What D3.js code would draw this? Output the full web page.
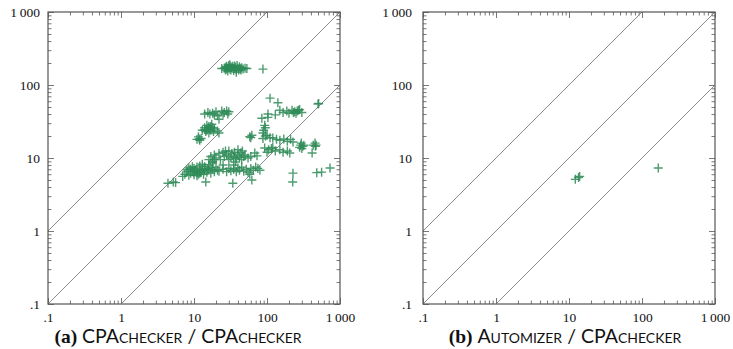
<!DOCTYPE html>
<html>
<head>
<meta charset="utf-8">
<script src="https://cdn.jsdelivr.net/npm/d3@7"></script>
<style>
  body { margin: 0; background: #fff; }
  svg { display: block; }
  .tick-label { font-family: "Liberation Serif", "DejaVu Serif", serif; font-size: 13.5px; fill: #111; }
  .caption { font-family: Lato, "Open Sans", sans-serif; font-size: 19.5px; fill: #111; }
  .caption .tag { font-family: "Liberation Serif", serif; font-weight: bold; }
  .caption .sc { font-variant: small-caps; }
</style>
</head>
<body>
<svg id="chart" width="733" height="349"></svg>
<script>
// axis ticks (same for both axes, both plots)
const tickValues = [0.1, 1, 10, 100, 1000];
const tickLabels = [".1", "1", "10", "100", "1\u2009000"];
const ratioLines = [10, 1, 0.1];

// (a) CPAchecker / CPAchecker  -- [x, y]
const pointsA = [
  // top cluster
  [26,170],[27,160],[28,180],[28,165],[29,155],[30,175],[30,185],[31,165],[32,160],[33,172],
  [34,180],[35,158],[36,168],[37,175],[38,162],[39,185],[40,170],[41,160],[42,178],[43,167],
  [45,172],[47,165],[50,170],[53,168],[27,175],[32,178],[36,182],[44,160],[24,168],[29,170],
  [31,190],[38,150],
  [88,165],
  // ~40 band
  [14,40],[15.5,42],[16.5,40],[18,41],[19,39],[20,43],[22,34],[21,38],[24,44],[26,42],
  [28,44],[29,40],[30,43],[25,40],
  // ~25 cluster
  [13,24],[14,26],[14.5,23],[15,28],[15.5,25],[16,22],[16,27],[17,24],[17.5,29],[18,26],
  [18.5,23],[19,25],[15,24],[16.5,25],[14,24.5],[17,27],
  [22,22],[21,23.5],
  // ~18 cluster
  [11,18],[11.5,19.5],[12,17.5],[12.5,18.5],[11.8,18.2],
  // dense low-left cluster
  [7,5.6],[7.5,6],[8,6.5],[8.5,5.8],[9,7],[9,6.2],[9.5,6.6],[10,7.2],[10,5.9],[10.5,6.8],
  [11,6.3],[11,7.5],[11.5,6],[12,6.9],[12,7.8],[12.5,6.4],[13,7.1],[13.5,6],[14,6.7],[14,7.6],
  [15,6.4],[15.5,7.2],[16,8],[16,6.8],[17,7.4],[17,6.2],[18,8.6],[18,7],[19,9.5],[19,6.5],
  [8,6.9],[9.5,7.6],[11,5.7],[13,8.2],[20,7.5],[21,6.8],[8.5,7.3],[10,6.5],[12,6.2],[14,7],
  [4.4,4.5],[5.2,4.7],[5.6,4.6],[14.5,4.7],[34,4.5],[62,5],
  // ~10-12 band
  [16,9.5],[17,10.5],[18,9],[19,11],[20,10],[22,11.5],[23,9.5],[25,12],[26,10.5],[28,11],
  [30,12.5],[32,10],[33,11.5],[35,10.5],[36,12],[38,9.8],[40,11],[40,13],[42,10.2],[44,11.8],
  [45,9.5],[48,10.5],[50,11],[55,10],[60,10.5],[68,11.7],[30,9.5],[37,8.8],[27,12.5],[46,12.5],
  // ~7 band
  [22,6.6],[25,7],[28,6.5],[30,7.2],[32,6.7],[35,7],[38,6.5],[40,7.3],[42,6.8],[45,7.5],
  [48,6.6],[52,7],[55,6.4],[60,7.2],[65,6.8],[70,7.5],[75,7.2],[80,6.8],[58,6],[25,8],[35,8],
  // right side
  [110,66],[141,57],[85,35],[103,36],[103,40],[130,39],[150,45],[166,42],[187,44],[200,41],
  [220,45],[240,43],[260,44],[280,46],[300,42],[250,41],[270,45],[230,42],[500,55],[510,56],
  [93,28],[95,26],[90,24],[88,22],[88,18.5],[95,20],[100,20.5],[58,19.6],[62,20.5],[60,19],
  [120,18.8],[135,18],[150,17.5],[170,18.2],[190,17],[210,18],[227,16.6],[110,19],
  [93,13.7],[105,13],[115,13.5],[130,12.5],[150,13],[166,12],[190,12.5],[205,11.7],[100,12],[120,14],
  [280,14],[290,15],[300,13.5],[310,14.5],[320,15],[295,16],
  [430,15],[455,16],[470,15],[460,14.5],
  [415,11.7],[227,6.2],[225,4.7],[480,6.3],[560,6.4],[730,7.3],[73,10.7]
];

// (b) Automizer / CPAchecker
const pointsB = [[12.2,5.1],[13.5,5.4],[14,5.6],[167,7.3]];

const minorValues = [];
tickValues.slice(0, -1).forEach(d => {
  for (let k = 2; k <= 9; k++) minorValues.push(d * k);
});

const svg = d3.select("#chart");

function drawPanel(cfg) {
  const x = d3.scaleLog().domain([0.1, 1000]).range([cfg.left, cfg.right]);
  const y = d3.scaleLog().domain([0.1, 1000]).range([cfg.bottom, cfg.top]);
  const g = svg.append("g");
  const fmt = d => tickLabels[tickValues.indexOf(d)];
  const frameColor = "#555";

  // ticks, pointing inward on all sides
  const sides = [
    [d3.axisBottom(x), `translate(0,${cfg.bottom})`],
    [d3.axisTop(x), `translate(0,${cfg.top})`],
    [d3.axisLeft(y), `translate(${cfg.left},0)`],
    [d3.axisRight(y), `translate(${cfg.right},0)`]
  ];
  [[minorValues, -3.5], [tickValues, -6]].forEach(([vals, size]) => {
    sides.forEach(([axisFn, tr]) => {
      const ga = g.append("g").attr("transform", tr)
        .call(axisFn.tickValues(vals).tickSize(size).tickFormat(""));
      ga.select(".domain").remove();
      ga.selectAll("text").remove();
      ga.selectAll("line").attr("stroke", frameColor).attr("stroke-width", 0.8);
    });
  });

  // tick labels
  const bx = g.append("g").attr("transform", `translate(0,${cfg.bottom})`)
    .call(d3.axisBottom(x).tickValues(tickValues).tickSize(0).tickPadding(8).tickFormat(fmt));
  bx.select(".domain").remove();
  bx.selectAll("line").remove();
  bx.selectAll("text").attr("class", "tick-label").attr("fill", null);

  const ly = g.append("g").attr("transform", `translate(${cfg.left},0)`)
    .call(d3.axisLeft(y).tickValues(tickValues).tickSize(0).tickPadding(cfg.ypad).tickFormat(fmt));
  ly.select(".domain").remove();
  ly.selectAll("line").remove();
  ly.selectAll("text").attr("class", "tick-label").attr("fill", null);

  // clip for marks
  const clipId = "clip-" + cfg.id;
  svg.append("clipPath").attr("id", clipId).append("rect")
    .attr("x", cfg.left).attr("y", cfg.top)
    .attr("width", cfg.right - cfg.left).attr("height", cfg.bottom - cfg.top);

  // ratio diagonals y = r * x
  const [lo, hi] = x.domain();
  const line = d3.line().x(d => x(d[0])).y(d => y(d[1]));
  g.append("g").attr("clip-path", `url(#${clipId})`)
    .selectAll("path.ratio").data(ratioLines).enter().append("path")
    .attr("class", "ratio")
    .attr("d", r => {
      const x0 = Math.max(lo, lo / r), x1 = Math.min(hi, hi / r);
      return line([[x0, x0 * r], [x1, x1 * r]]);
    })
    .attr("fill", "none").attr("stroke", "#8a8a8a").attr("stroke-width", 1);

  // points
  g.append("g").attr("clip-path", `url(#${clipId})`)
    .selectAll("path.pt").data(cfg.points).enter().append("path")
    .attr("class", "pt")
    .attr("transform", d => `translate(${x(d[0])},${y(d[1])})`)
    .attr("d", "M-4.5,0H4.5M0,-4.5V4.5")
    .attr("stroke", "#2e8b57").attr("stroke-opacity", 0.85).attr("stroke-width", 1.4);

  // frame
  g.append("rect")
    .attr("x", cfg.left).attr("y", cfg.top)
    .attr("width", cfg.right - cfg.left).attr("height", cfg.bottom - cfg.top)
    .attr("fill", "none").attr("stroke", frameColor).attr("stroke-width", 1.2);

  // caption
  const cap = svg.append("text").attr("class", "caption")
    .attr("x", cfg.capX).attr("y", 343).attr("text-anchor", "middle");
  cap.append("tspan").attr("class", "tag").text(cfg.tag + " ");
  cfg.caption.forEach(([txt, sc]) => {
    cap.append("tspan").attr("class", sc ? "sc" : null).text(txt);
  });
}

drawPanel({
  id: "a", left: 48, right: 340, top: 12, bottom: 304, ypad: 8, capX: 178,
  points: pointsA, tag: "(a)",
  caption: [["CPA", false], ["checker", true], [" / CPA", false], ["checker", true]]
});
drawPanel({
  id: "b", left: 423, right: 715, top: 12, bottom: 304, ypad: 11, capX: 565,
  points: pointsB, tag: "(b)",
  caption: [["A", false], ["utomizer", true], [" / CPA", false], ["checker", true]]
});
</script>
</body>
</html>
